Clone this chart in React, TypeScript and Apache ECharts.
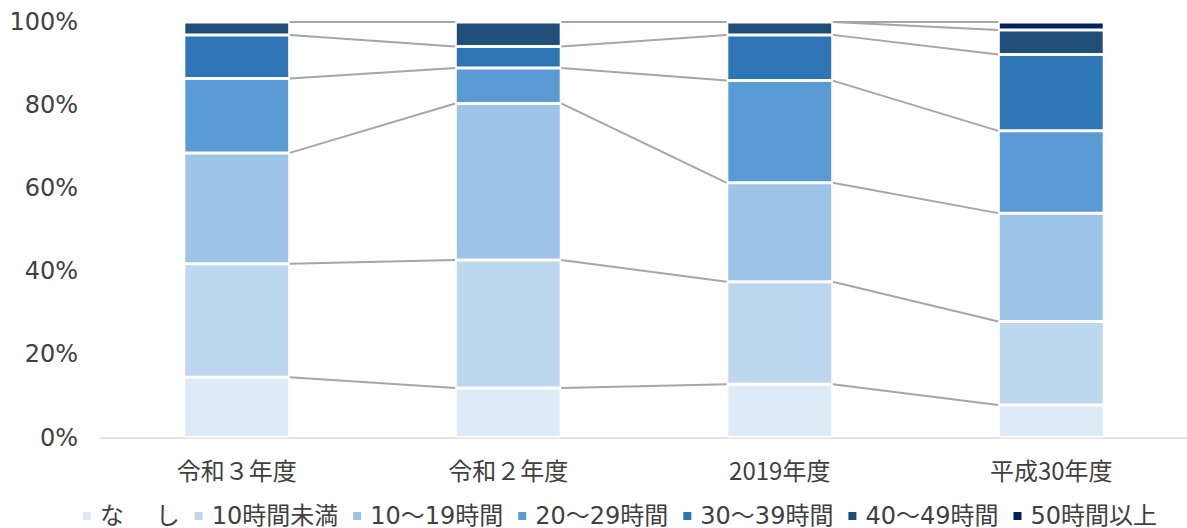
import React, { useEffect, useRef } from "react";
import * as echarts from "echarts";

const categories = ["令和３年度", "令和２年度", "2019年度", "平成30年度"];
const seriesNames = ["な　 し", "10時間未満", "10～19時間", "20～29時間", "30～39時間", "40～49時間", "50時間以上"];
const nashi = [14.5, 11.9, 12.8, 7.8];
const under10 = [27.3, 30.8, 24.7, 20.1];
const h10to19 = [26.7, 37.7, 23.8, 26.1];
const h20to29 = [17.9, 8.5, 24.6, 19.8];
const h30to39 = [10.5, 5.2, 11.0, 18.4];
const h40to49 = [3.1, 5.9, 3.1, 5.9];
const h50plus = [0, 0, 0, 1.9];
const yTicks = [0, 20, 40, 60, 80, 100];
const colors = ["#DEEBF7", "#BDD7EE", "#9DC3E6", "#5B9BD5", "#2E75B6", "#1F4E79", "#002060"];

const seriesValues = [nashi, under10, h10to19, h20to29, h30to39, h40to49, h50plus];
const BAR_RATIO = 0.39;

export default function App() {
  const ref = useRef<HTMLDivElement>(null);
  useEffect(() => {
    document.body.style.margin = "0";
    const chart = echarts.init(ref.current!, null, { renderer: "svg" });
    // cumulative tops for series lines
    const lineData: number[][] = [];
    const cum = categories.map(() => 0);
    seriesValues.forEach((vals) => {
      vals.forEach((v, i) => (cum[i] += v));
      for (let i = 0; i < categories.length - 1; i++) {
        lineData.push([i, cum[i], cum[i + 1]]);
      }
    });
    const barSeries = seriesValues.map((vals, k) => ({
      name: seriesNames[k],
      type: "bar",
      stack: "total",
      barWidth: BAR_RATIO * 100 + "%",
      data: vals,
      itemStyle: { color: colors[k], borderColor: "#ffffff", borderWidth: 1.5 },
    }));
    chart.setOption({
      animation: false,
      grid: { left: 101, right: 0, top: 22, bottom: 90.5, containLabel: false },
      legend: {
        data: seriesNames,
        left: 76,
        top: 499,
        itemWidth: 10,
        itemHeight: 10,
        itemGap: 13,
        icon: "rect",
        textStyle: {
          fontFamily: "'DejaVu Sans', 'Noto Sans CJK JP'",
          fontSize: 24,
          lineHeight: 24,
          color: "#404040",
          padding: [0, 0, 0, 3],
        },
      },
      xAxis: {
        type: "category",
        data: categories,
        axisLine: { lineStyle: { color: "#d9d9d9", width: 1.5 } },
        axisTick: { show: false },
        axisLabel: { fontFamily: "'Noto Sans CJK JP'", fontSize: 24, color: "#404040", margin: 20 },
      },
      yAxis: {
        type: "value",
        min: yTicks[0],
        max: yTicks[yTicks.length - 1],
        interval: yTicks[1] - yTicks[0],
        splitLine: { show: false },
        axisLine: { show: false },
        axisTick: { show: false },
        axisLabel: {
          formatter: "{value}%",
          fontFamily: "'DejaVu Sans'",
          fontSize: 24,
          color: "#404040",
          margin: 23,
        },
      },
      series: [
        ...barSeries,
        {
          type: "custom",
          name: "seriesLines",
          data: lineData,
          encode: { x: 0, y: 1 },
          z: 1,
          renderItem: (params: any, api: any) => {
            const i = api.value(0);
            const p1 = api.coord([i, api.value(1)]);
            const p2 = api.coord([i + 1, api.value(2)]);
            const half = (api.size([1, 0])[0] * BAR_RATIO) / 2;
            return {
              type: "line",
              shape: { x1: p1[0] + half, y1: p1[1], x2: p2[0] - half, y2: p2[1] },
              style: { stroke: "#a6a6a6", lineWidth: 2 },
            };
          },
        },
      ],
    });
    return () => chart.dispose();
  }, []);
  return <div ref={ref} style={{ width: 1187, height: 528 }} />;
}
